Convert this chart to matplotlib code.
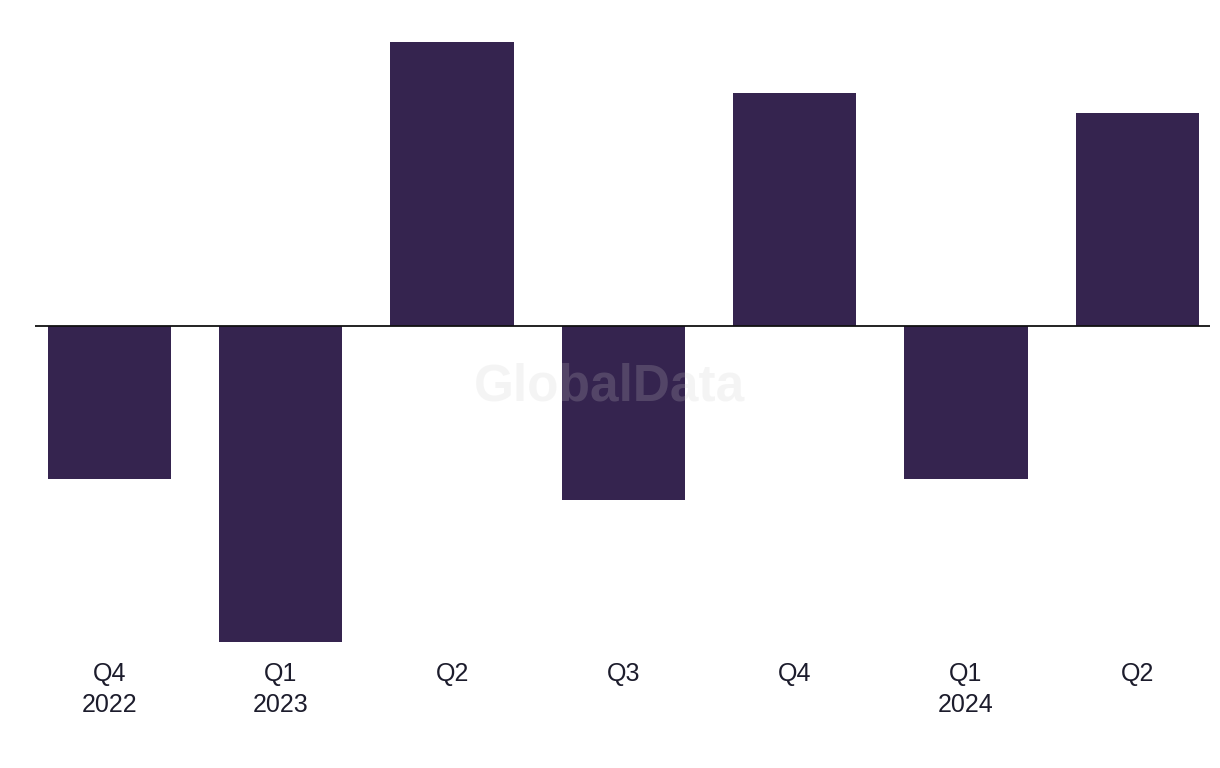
import matplotlib
matplotlib.use("Agg")
import matplotlib.pyplot as plt
import numpy as np

# quarterly change (arbitrary units, no y axis shown)
quarters = ["Q4\n2022", "Q1\n2023", "Q2", "Q3", "Q4", "Q1\n2024", "Q2"]
values = [-1.53, -3.16, 2.84, -1.74, 2.33, -1.53, 2.13]

bar_color = "#35244f"
text_color = "#1c1c2c"

plt.rcParams["font.family"] = ["Liberation Sans", "DejaVu Sans"]

fig = plt.figure(figsize=(12.2, 7.68), dpi=100)
ax = fig.add_axes([35 / 1220, 1 - 650 / 768, 1175 / 1220, 620 / 768])

x = np.arange(len(quarters))
ax.bar(x, values, width=0.72, color=bar_color, zorder=2)
ax.axhline(0, color="#111111", linewidth=1.3, zorder=3)

ax.set_xlim(-0.435, 6.425)
ax.set_ylim(-3.24, 2.96)
ax.set_yticks([])
ax.set_xticks(x)
ax.set_xticklabels(quarters, fontsize=18, color=text_color, linespacing=1.35)
ax.tick_params(axis="x", length=0, pad=9)
for s in ax.spines.values():
    s.set_visible(False)

# watermark
fig.text(0.5, 1 - 387 / 768, "GlobalData", ha="center", va="center",
         fontsize=37, fontweight="bold", color="#cccccc", alpha=0.2, zorder=10)

fig.savefig("out.png", dpi=100, facecolor="white")
